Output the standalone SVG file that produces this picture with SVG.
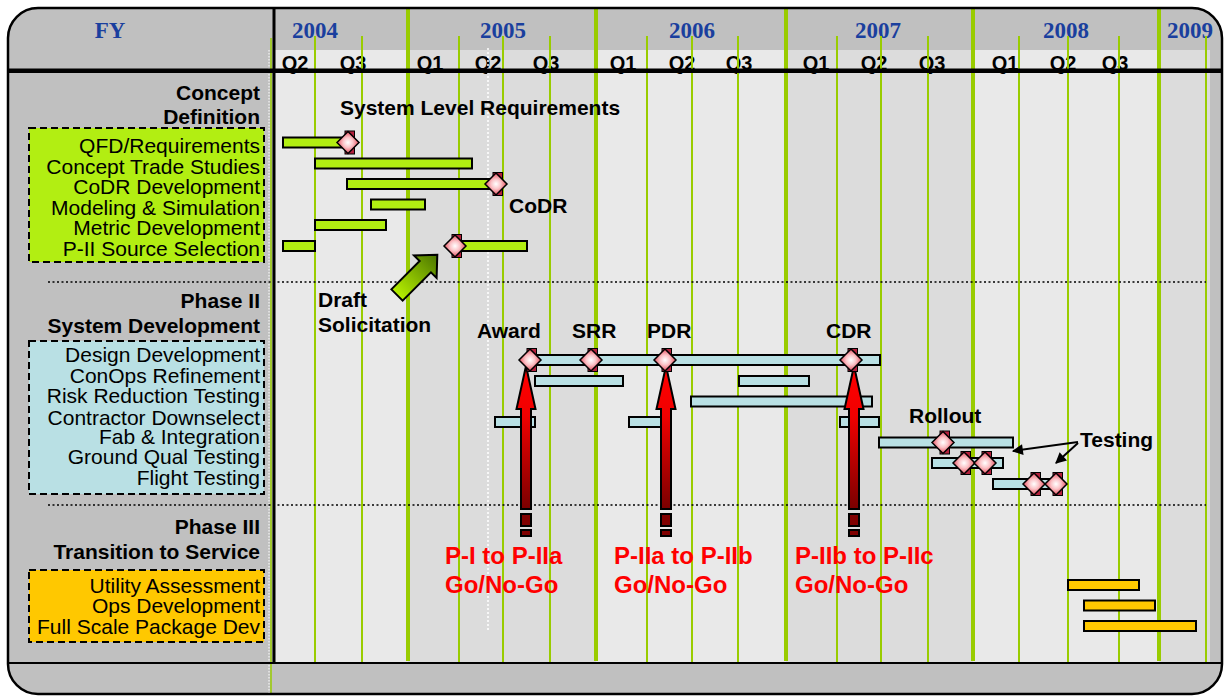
<svg xmlns="http://www.w3.org/2000/svg" width="1225" height="696" viewBox="0 0 1225 696">
<style>
.yr{font-family:"Liberation Serif","Times New Roman",serif;font-weight:bold;font-size:23px;fill:#1a3f9e;text-anchor:middle}
.q{font-family:"Liberation Sans",Arial,sans-serif;font-weight:bold;font-size:20px;fill:#000;text-anchor:middle}
.hd{font-family:"Liberation Sans",Arial,sans-serif;font-weight:bold;font-size:21px;fill:#000;text-anchor:end}
.it{font-family:"Liberation Sans",Arial,sans-serif;font-size:21px;fill:#000;text-anchor:end}
.lb{font-family:"Liberation Sans",Arial,sans-serif;font-weight:bold;font-size:21px;fill:#000}
.rd{font-family:"Liberation Sans",Arial,sans-serif;font-weight:bold;font-size:24px;fill:#ff0000}
.gy{stroke:#99cc00;stroke-width:4}
.gq{stroke:#99cc00;stroke-width:2}
.bg{fill:#b2ee12;stroke:#000;stroke-width:2}
.bc{fill:#b9e0e4;stroke:#000;stroke-width:2}
.bo{fill:#ffc800;stroke:#000;stroke-width:2}
.box{stroke:#000;stroke-width:2;stroke-dasharray:7 4}
.sep{stroke:#000;stroke-width:1.5;stroke-dasharray:2 2.5;fill:none}
.ra{fill:url(#rg);stroke:#000;stroke-width:2}
.rs{fill:#800000;stroke:#000;stroke-width:2}
</style>
<defs>
<radialGradient id="dgr" cx="0.5" cy="0.5" r="0.5">
<stop offset="0" stop-color="#ffffff"/>
<stop offset="0.45" stop-color="#fbc4c8"/>
<stop offset="1" stop-color="#e64a5a"/>
</radialGradient>
<linearGradient id="rg" x1="0" y1="0" x2="0" y2="1">
<stop offset="0" stop-color="#ff0000"/>
<stop offset="0.35" stop-color="#f00000"/>
<stop offset="1" stop-color="#7a0000"/>
</linearGradient>
<linearGradient id="gg" gradientUnits="userSpaceOnUse" x1="0" y1="0" x2="57" y2="0">
<stop offset="0" stop-color="#b6f000"/>
<stop offset="1" stop-color="#4a7400"/>
</linearGradient>
<g id="dm">
<rect x="-3" y="-11.5" width="9.5" height="23" fill="#b3203c" stroke="#000" stroke-width="1"/>
<path d="M0,-11 L11,0 L0,11 L-11,0Z" fill="url(#dgr)" stroke="#000" stroke-width="1.5"/>
</g>
<marker id="ah" viewBox="0 0 10 10" refX="9" refY="5" markerWidth="13" markerHeight="11" orient="auto" markerUnits="userSpaceOnUse">
<path d="M0,0 L10,5 L0,10Z" fill="#000"/>
</marker>
</defs>

<g id="frame">
<rect x="8" y="8" width="1214" height="686" rx="30" ry="30" fill="#c0c0c0"/>
<rect x="274" y="50" width="134" height="613" fill="#e9e9e9"/>
<rect x="408" y="50" width="188" height="613" fill="#dcdcdc"/>
<rect x="596" y="50" width="190" height="613" fill="#e9e9e9"/>
<rect x="786" y="50" width="187" height="613" fill="#dcdcdc"/>
<rect x="973" y="50" width="186" height="613" fill="#e9e9e9"/>
<rect x="1159" y="50" width="51" height="613" fill="#dcdcdc"/>
</g>

<g id="header">
<text class="yr" x="110" y="38">FY</text>
<text class="yr" x="315" y="38">2004</text>
<text class="yr" x="503" y="38">2005</text>
<text class="yr" x="692" y="38">2006</text>
<text class="yr" x="878" y="38">2007</text>
<text class="yr" x="1066" y="38">2008</text>
<text class="yr" x="1190" y="38">2009</text>
<text class="q" x="295" y="70">Q2</text>
<text class="q" x="353" y="70">Q3</text>
<text class="q" x="430" y="70">Q1</text>
<text class="q" x="488" y="70">Q2</text>
<text class="q" x="546" y="70">Q3</text>
<text class="q" x="623" y="70">Q1</text>
<text class="q" x="682" y="70">Q2</text>
<text class="q" x="739" y="70">Q3</text>
<text class="q" x="816" y="70">Q1</text>
<text class="q" x="874" y="70">Q2</text>
<text class="q" x="932" y="70">Q3</text>
<text class="q" x="1005" y="70">Q1</text>
<text class="q" x="1063" y="70">Q2</text>
<text class="q" x="1115" y="70">Q3</text>
</g>

<g id="gridlines">
<line class="gy" x1="408" y1="8" x2="408" y2="661"/>
<line class="gy" x1="596" y1="8" x2="596" y2="661"/>
<line class="gy" x1="786" y1="8" x2="786" y2="661"/>
<line class="gy" x1="973" y1="8" x2="973" y2="661"/>
<line class="gy" x1="1159" y1="8" x2="1159" y2="661"/>
<line class="gq" x1="315" y1="36" x2="315" y2="663"/>
<line class="gq" x1="362" y1="36" x2="362" y2="663"/>
<line class="gq" x1="459" y1="36" x2="459" y2="663"/>
<line class="gq" x1="503" y1="36" x2="503" y2="663"/>
<line class="gq" x1="550" y1="36" x2="550" y2="663"/>
<line class="gq" x1="647" y1="36" x2="647" y2="663"/>
<line class="gq" x1="692" y1="36" x2="692" y2="663"/>
<line class="gq" x1="738" y1="36" x2="738" y2="663"/>
<line class="gq" x1="837" y1="36" x2="837" y2="663"/>
<line class="gq" x1="881" y1="36" x2="881" y2="663"/>
<line class="gq" x1="928" y1="36" x2="928" y2="663"/>
<line class="gq" x1="1019" y1="36" x2="1019" y2="663"/>
<line class="gq" x1="1068" y1="36" x2="1068" y2="663"/>
<line class="gq" x1="1119" y1="36" x2="1119" y2="663"/>
<line class="gq" x1="1206" y1="36" x2="1206" y2="663"/>
<line x1="271" y1="38" x2="271" y2="694" stroke="#99cc00" stroke-width="1.5"/>
<line x1="269" y1="50" x2="269" y2="694" stroke="#ffffff" stroke-width="1" stroke-dasharray="1.5 1.5"/>
<line x1="488" y1="48" x2="488" y2="630" stroke="#ffffff" stroke-width="1.5" stroke-dasharray="2 2"/>
<line class="sep" x1="48" y1="282" x2="1206" y2="282"/>
<line class="sep" x1="48" y1="505" x2="1206" y2="505"/>
</g>

<g id="frame-lines">
<line x1="8" y1="70.8" x2="1222" y2="70.8" stroke="#000" stroke-width="4.5"/>
<line x1="274" y1="8" x2="274" y2="663" stroke="#000" stroke-width="3"/>
<line x1="8" y1="663" x2="1222" y2="663" stroke="#000" stroke-width="2"/>
<rect x="8" y="8" width="1214" height="686" rx="30" ry="30" fill="none" stroke="#000" stroke-width="2.5"/>
</g>

<g id="concept-definition">
<text class="hd" x="260" y="100">Concept</text>
<text class="hd" x="260" y="124">Definition</text>
<rect class="box" x="29" y="128" width="235" height="134" fill="#b2ee12"/>
<text class="it" x="260" y="153">QFD/Requirements</text>
<text class="it" x="260" y="174">Concept Trade Studies</text>
<text class="it" x="260" y="194">CoDR Development</text>
<text class="it" x="260" y="215">Modeling &amp; Simulation</text>
<text class="it" x="260" y="235">Metric Development</text>
<text class="it" x="260" y="256">P-II Source Selection</text>
</g>

<g id="phase2">
<text class="hd" x="260" y="308">Phase II</text>
<text class="hd" x="260" y="333">System Development</text>
<rect class="box" x="29" y="341" width="235" height="153" fill="#b9e0e4"/>
<text class="it" x="260" y="362">Design Development</text>
<text class="it" x="260" y="383">ConOps Refinement</text>
<text class="it" x="260" y="403">Risk Reduction Testing</text>
<text class="it" x="260" y="425">Contractor Downselect</text>
<text class="it" x="260" y="444">Fab &amp; Integration</text>
<text class="it" x="260" y="464">Ground Qual Testing</text>
<text class="it" x="260" y="485">Flight Testing</text>
</g>

<g id="phase3">
<text class="hd" x="260" y="534">Phase III</text>
<text class="hd" x="260" y="559">Transition to Service</text>
<rect class="box" x="29" y="570" width="235" height="72" fill="#ffc800"/>
<text class="it" x="260" y="593">Utility Assessment</text>
<text class="it" x="260" y="613">Ops Development</text>
<text class="it" x="260" y="634">Full Scale Package Dev</text>
</g>

<g id="bars-concept">
<rect class="bg" x="283" y="137.5" width="67" height="10"/>
<rect class="bg" x="315" y="158.5" width="157" height="10"/>
<rect class="bg" x="347" y="179" width="148" height="10"/>
<rect class="bg" x="371" y="199.5" width="54" height="10"/>
<rect class="bg" x="315" y="220" width="71" height="10"/>
<rect class="bg" x="283" y="241" width="32" height="10"/>
<rect class="bg" x="458" y="241" width="69" height="10"/>
</g>

<g id="bars-phase2">
<rect class="bc" x="530" y="355" width="350" height="10"/>
<rect class="bc" x="535" y="376" width="88" height="10"/>
<rect class="bc" x="739" y="376" width="70" height="10"/>
<rect class="bc" x="691" y="396.5" width="181" height="10"/>
<rect class="bc" x="495" y="417" width="40" height="10"/>
<rect class="bc" x="629" y="417" width="36" height="10"/>
<rect class="bc" x="840" y="417" width="39" height="10"/>
<rect class="bc" x="879" y="437.5" width="134" height="10"/>
<rect class="bc" x="932" y="458" width="71" height="10"/>
<rect class="bc" x="993" y="479" width="67" height="10"/>
</g>

<g id="bars-phase3">
<rect class="bo" x="1068" y="580" width="71" height="10"/>
<rect class="bo" x="1084" y="600.5" width="71" height="10"/>
<rect class="bo" x="1084" y="621" width="112" height="10"/>
</g>

<g id="connectors">
<g id="gate-award">
<path class="ra" d="M526,366 L535.5,409 L531,409 L531,509 L521,509 L521,409 L516.5,409Z"/>
<rect class="rs" x="521" y="514" width="10" height="12"/>
<rect class="rs" x="521" y="530" width="10" height="6"/>
</g>
<g id="gate-pdr">
<path class="ra" d="M666,366 L675.5,409 L671,409 L671,509 L661,509 L661,409 L656.5,409Z"/>
<rect class="rs" x="661" y="514" width="10" height="12"/>
<rect class="rs" x="661" y="530" width="10" height="6"/>
</g>
<g id="gate-cdr">
<path class="ra" d="M854,366 L863.5,409 L859,409 L859,509 L849,509 L849,409 L844.5,409Z"/>
<rect class="rs" x="849" y="514" width="10" height="12"/>
<rect class="rs" x="849" y="530" width="10" height="6"/>
</g>
<polygon id="draft-arrow" transform="translate(397,295) rotate(-45)" points="0,-8 40,-8 40,-16 57,0 40,16 40,8 0,8" fill="url(#gg)" stroke="#000" stroke-width="2"/>
<line x1="1078" y1="442" x2="1013" y2="451" stroke="#000" stroke-width="2" marker-end="url(#ah)"/>
<line x1="1078" y1="443" x2="1056" y2="463" stroke="#000" stroke-width="2" marker-end="url(#ah)"/>
</g>

<g id="milestones">
<use href="#dm" x="348" y="142.5"/>
<use href="#dm" x="496" y="184"/>
<use href="#dm" x="455" y="246"/>
<use href="#dm" x="530" y="360"/>
<use href="#dm" x="591" y="360"/>
<use href="#dm" x="665" y="360"/>
<use href="#dm" x="851" y="360"/>
<use href="#dm" x="943" y="442.5"/>
<use href="#dm" x="964" y="463"/>
<use href="#dm" x="985" y="463"/>
<use href="#dm" x="1034" y="484"/>
<use href="#dm" x="1056" y="484"/>
</g>

<g id="labels">
<text class="lb" x="340" y="115">System Level Requirements</text>
<text class="lb" x="509" y="213">CoDR</text>
<text class="lb" x="318" y="307">Draft</text>
<text class="lb" x="318" y="332">Solicitation</text>
<text class="lb" x="477" y="338">Award</text>
<text class="lb" x="572" y="338">SRR</text>
<text class="lb" x="647" y="338">PDR</text>
<text class="lb" x="826" y="338">CDR</text>
<text class="lb" x="909" y="423">Rollout</text>
<text class="lb" x="1080" y="447">Testing</text>
<text class="rd" x="445" y="564">P-I to P-IIa</text>
<text class="rd" x="445" y="593">Go/No-Go</text>
<text class="rd" x="614" y="564">P-IIa to P-IIb</text>
<text class="rd" x="614" y="593">Go/No-Go</text>
<text class="rd" x="795" y="564">P-IIb to P-IIc</text>
<text class="rd" x="795" y="593">Go/No-Go</text>
</g>
</svg>
